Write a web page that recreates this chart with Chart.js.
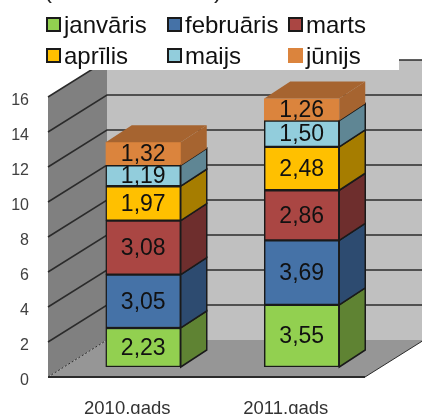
<!DOCTYPE html>
<html lang="lv">

<head>
    <meta charset="UTF-8">
    <title>2010.gads / 2011.gads</title>
    <script src="https://cdn.jsdelivr.net/npm/chart.js"></script>
    <style>
        html, body { margin: 0; padding: 0; background: #fff; overflow: hidden; }
        #wrap { position: relative; width: 422px; height: 414px; font-family: 'Liberation Sans', Arial, sans-serif; }
        canvas { position: absolute; left: 0; top: 0; }
        .paren { position: absolute; top: -24px; font-size: 24px; line-height: 28px; color: #222; }
        #legenda { position: absolute; left: 46px; top: 9px; display: grid; grid-template-columns: 121px 121px auto; grid-auto-rows: 31px; font-size: 24px; color: #111; }
        #legenda div { display: flex; align-items: center; }
        #legenda span { box-sizing: border-box; width: 15px; height: 15px; margin-right: 3px; border: 2px solid #1a1a1a; }
    </style>
</head>

<body>
    <div id="wrap">
        <canvas id="grafiks" width="422" height="414"></canvas>
        <span class="paren" style="left:44px">(</span>
        <span class="paren" style="left:214px">)</span>
        <div id="legenda"></div>
    </div>

    <script>
        const gadi = ['2010.gads', '2011.gads'];
        const janvaris = [2.23, 3.55];
        const februaris = [3.05, 3.69];
        const marts = [3.08, 2.86];
        const aprilis = [1.97, 2.48];
        const maijs = [1.19, 1.50];
        const junijs = [1.32, 1.26];
        const yTicks = [0, 2, 4, 6, 8, 10, 12, 14, 16];

        const FRONT_X = 16, FRONT_Y = 10;   // bars stand this far inside the floor edge
        const WALL_X = 59, WALL_Y = 37;     // depth of the walls
        const SIDE_X = 26, SIDE_Y = 17;     // depth of a bar
        const EDGE = '#1a1a1a';

        const serijas = [
            { label: 'janvāris', data: janvaris, color: '#92d050', side: '#5f8333' },
            { label: 'februāris', data: februaris, color: '#4572a7', side: '#2d4b70' },
            { label: 'marts', data: marts, color: '#aa4643', side: '#6e2e2d' },
            { label: 'aprīlis', data: aprilis, color: '#ffc000', side: '#a67d00' },
            { label: 'maijs', data: maijs, color: '#92cddc', side: '#5f8694' },
            { label: 'jūnijs', data: junijs, color: '#db843d', side: '#a66430', border: '#db843d' }
        ];

        function poly(ctx, pts, fill, stroke, lw) {
            ctx.beginPath();
            pts.forEach((p, i) => i ? ctx.lineTo(p[0], p[1]) : ctx.moveTo(p[0], p[1]));
            ctx.closePath();
            if (fill) { ctx.fillStyle = fill; ctx.fill(); }
            if (stroke) { ctx.strokeStyle = stroke; ctx.lineWidth = lw || 1.5; ctx.stroke(); }
        }

        // walls and floor, placed from the y scale
        const sienas = {
            id: 'sienas',
            beforeDatasetsDraw(chart) {
                const { ctx, chartArea: a, scales: { y } } = chart;
                const l = a.left - FRONT_X, r = a.right - FRONT_X;
                const yy = v => y.getPixelForValue(v) + FRONT_Y;
                const b = yy(0), t = yy(16);
                ctx.save();
                poly(ctx, [[l + WALL_X, t - WALL_Y], [422, t - WALL_Y], [422, b - WALL_Y], [l + WALL_X, b - WALL_Y]], '#c0c0c0');
                poly(ctx, [[l, t], [l + WALL_X, t - WALL_Y], [l + WALL_X, b - WALL_Y], [l, b]], '#808080');
                poly(ctx, [[l, b], [r, b], [r + WALL_X, b - WALL_Y], [l + WALL_X, b - WALL_Y]], '#969696');

                ctx.strokeStyle = '#2b2b2b';
                ctx.lineWidth = 1.5;
                yTicks.slice(1).forEach(v => {
                    const p = yy(v);
                    ctx.beginPath();
                    ctx.moveTo(l, p);
                    ctx.lineTo(l + WALL_X, p - WALL_Y);
                    ctx.lineTo(422, p - WALL_Y);
                    ctx.stroke();
                });
                ctx.lineWidth = 2;
                ctx.beginPath();
                ctx.moveTo(l, b);
                ctx.lineTo(r, b);
                ctx.stroke();
                ctx.lineWidth = 1;
                ctx.beginPath();
                ctx.moveTo(r, b);
                ctx.lineTo(r + WALL_X, b - WALL_Y);
                ctx.stroke();
                ctx.setLineDash([2, 2]);
                ctx.beginPath();
                ctx.moveTo(l, b);
                ctx.lineTo(l + WALL_X, b - WALL_Y);
                ctx.stroke();
                ctx.setLineDash([]);

                // white band behind the legend
                ctx.fillStyle = '#fff';
                ctx.fillRect(0, 0, 399, t - WALL_Y + 10);
                ctx.restore();
            },
            afterDatasetsDraw(chart) {
                const { ctx } = chart;
                ctx.save();
                chart.data.datasets.forEach((ds, i) => {
                    const s = serijas[i];
                    chart.getDatasetMeta(i).data.forEach((bar, j) => {
                        const xr = bar.x + bar.width / 2, xl = bar.x - bar.width / 2;
                        const edge = s.border ? null : EDGE;
                        poly(ctx, [[xr, bar.y], [xr + SIDE_X, bar.y - SIDE_Y], [xr + SIDE_X, bar.base - SIDE_Y], [xr, bar.base]], s.side, edge);
                        if (i === serijas.length - 1) {
                            poly(ctx, [[xl, bar.y], [xl + SIDE_X, bar.y - SIDE_Y], [xr + SIDE_X, bar.y - SIDE_Y], [xr, bar.y]], s.side);
                        }
                        ctx.fillStyle = '#111';
                        ctx.font = "23px 'Liberation Sans', Arial, sans-serif";
                        ctx.textAlign = 'center';
                        ctx.textBaseline = 'middle';
                        ctx.fillText(ds.data[j].toFixed(2).replace('.', ','), bar.x, (bar.y + bar.base) / 2 + 1);
                    });
                });
                ctx.restore();
            }
        };

        new Chart(document.getElementById('grafiks').getContext('2d'), {
            type: 'bar',
            data: {
                labels: gadi,
                datasets: serijas.map(s => ({
                    label: s.label,
                    data: s.data,
                    backgroundColor: s.color,
                    borderColor: s.border || EDGE,
                    borderWidth: 1.5,
                    borderSkipped: false,
                    barThickness: 75
                }))
            },
            options: {
                responsive: false,
                animation: false,
                layout: { padding: { top: 87, right: 41, left: 0, bottom: 0 } },
                plugins: { legend: { display: false }, tooltip: { enabled: false } },
                scales: {
                    x: {
                        stacked: true,
                        grid: { display: false },
                        border: { display: false },
                        afterFit: s => { s.height = 47; },
                        ticks: {
                            color: '#333',
                            padding: 23,
                            labelOffset: -FRONT_X,
                            maxRotation: 0,
                            font: { family: "'Liberation Sans', Arial, sans-serif", size: 18.5 }
                        }
                    },
                    y: {
                        stacked: true,
                        min: 0,
                        max: 16,
                        grid: { display: false },
                        border: { display: false },
                        afterFit: s => { s.width = 64; },
                        ticks: {
                            stepSize: 2,
                            color: '#404040',
                            padding: 27,
                            labelOffset: 14,
                            font: { family: "'Liberation Sans', Arial, sans-serif", size: 16 }
                        }
                    }
                }
            },
            plugins: [sienas]
        });

        const legenda = document.getElementById('legenda');
        serijas.forEach(s => {
            const item = document.createElement('div');
            const box = document.createElement('span');
            box.style.background = s.color;
            box.style.borderColor = s.border || EDGE;
            item.appendChild(box);
            item.appendChild(document.createTextNode(s.label));
            legenda.appendChild(item);
        });
    </script>
</body>

</html>
